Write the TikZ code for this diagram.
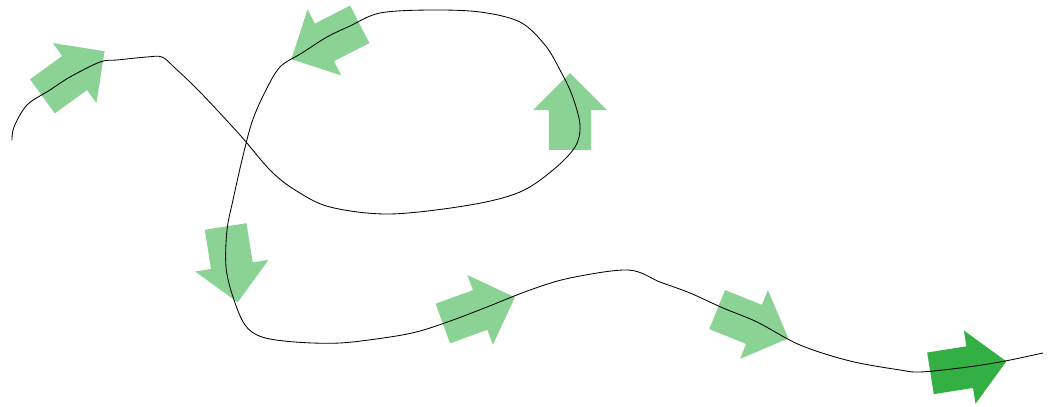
\documentclass[tikz,border=0pt]{standalone}
\usepackage{xcolor}
\usepackage{tikz}
\usetikzlibrary{shapes.arrows}
\definecolor{pale}{HTML}{5DC26C}
\definecolor{deep}{HTML}{22A833}
\tikzset{
  blockarr/.style={single arrow, draw=none, fill=#1, fill opacity=0.72,
                   minimum height=1.92cm, inner sep=0.52cm, outer sep=0pt,
                   single arrow head extend=0.4cm, single arrow tip angle=90},
  route/.style={draw=black, line width=0.6pt},
}
\begin{document}
\begin{tikzpicture}[x=0.025cm, y=-0.025cm]
  \useasboundingbox (0,0) rectangle (1053,407);
  % block arrows along the route
  \node[blockarr=pale, rotate=36] (a1) at (65,80) {};
  \node[blockarr=pale, rotate=207] (a2) at (335,37) {};
  \node[blockarr=pale, rotate=90] (a3) at (570,122) {};
  \node[blockarr=pale, rotate=-81] (a4) at (230,254) {};
  \node[blockarr=pale, rotate=20] (a5) at (469,314) {};
  \node[blockarr=pale, rotate=-22] (a6) at (743,320) {};
  \node[blockarr=deep, fill opacity=0.92, rotate=9] (a7) at (958,369) {};
  % the route
  \draw[route] plot[smooth, tension=0.55] coordinates {
    (12,140) (14,127) (27,105) (50,90) (70,77) (100,62) (117,60) (147,57)
    (162,57) (175,68) (200,92) (240,135) (270,170) (295,190) (330,207)
    (390,214) (470,205) (520,192) (553,170) (575,147) (580,125) (572,95)
    (560,70) (545,45) (520,22) (480,12) (430,10) (380,13) (350,26) (327,37)
    (302,53) (280,67) (265,92) (252,122) (242,160) (233,200) (227,230)
    (226,267) (233,297) (245,325) (262,337) (295,342) (340,343) (390,337)
    (420,331) (453,320) (487,307) (530,290) (570,278) (628,270) (660,282)
    (690,293) (723,308) (757,322) (800,345) (850,361) (900,370) (920,372)
    (960,368) (1000,362) (1043,353)};
\end{tikzpicture}
\end{document}
